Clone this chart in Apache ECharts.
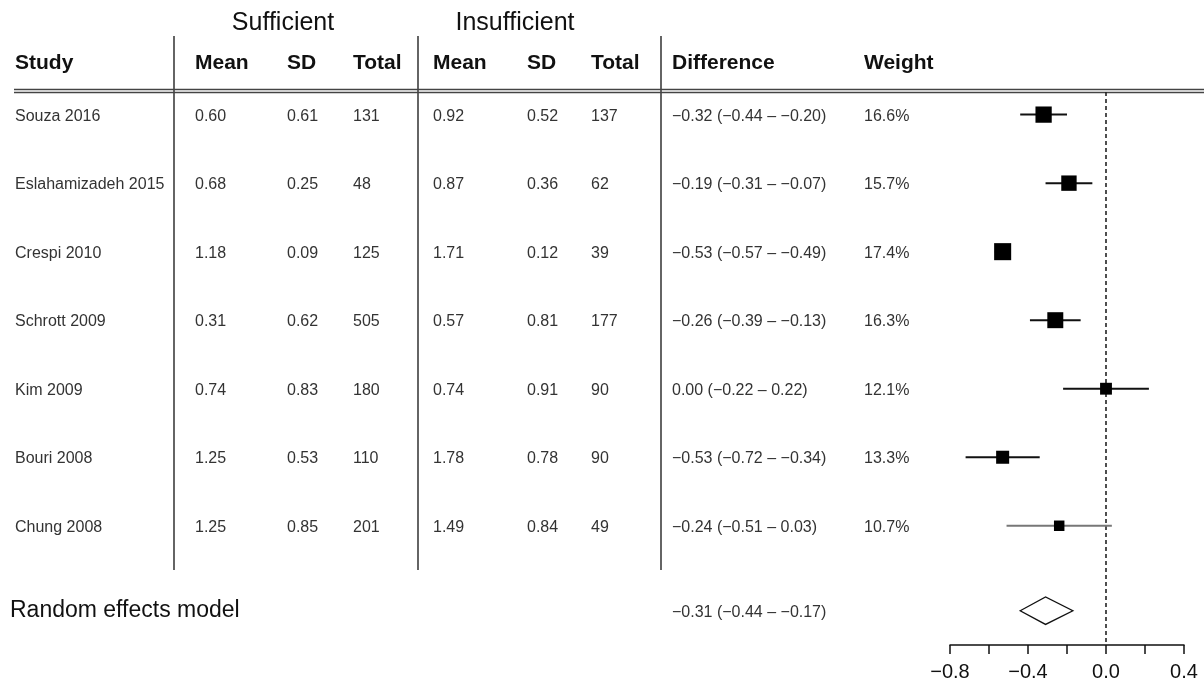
<!DOCTYPE html>
<html>
<head>
<meta charset="utf-8">
<script src="https://cdn.jsdelivr.net/npm/echarts@6/dist/echarts.min.js"></script>
<style>html,body{margin:0;padding:0;background:#fff}#c{width:1204px;height:692px}</style>
</head>
<body>
<div id="c"></div>
<script>
// ---- data ----
const studies = ['Souza 2016','Eslahamizadeh 2015','Crespi 2010','Schrott 2009','Kim 2009','Bouri 2008','Chung 2008'];
const sufMean = [0.60, 0.68, 1.18, 0.31, 0.74, 1.25, 1.25];
const sufSD   = [0.61, 0.25, 0.09, 0.62, 0.83, 0.53, 0.85];
const sufN    = [131, 48, 125, 505, 180, 110, 201];
const insMean = [0.92, 0.87, 1.71, 0.57, 0.74, 1.78, 1.49];
const insSD   = [0.52, 0.36, 0.12, 0.81, 0.91, 0.78, 0.84];
const insN    = [137, 62, 39, 177, 90, 90, 49];
const diff    = [-0.32, -0.19, -0.53, -0.26, 0.00, -0.53, -0.24];
const ciLow   = [-0.44, -0.31, -0.57, -0.39, -0.22, -0.72, -0.51];
const ciHigh  = [-0.20, -0.07, -0.49, -0.13, 0.22, -0.34, 0.03];
const weight  = [16.6, 15.7, 17.4, 16.3, 12.1, 13.3, 10.7];
const pooled  = {est: -0.31, low: -0.44, high: -0.17};
const xTicks  = [-0.8, -0.4, 0.0, 0.4];

// ---- layout ----
const FONT = "'Liberation Sans', Arial, Helvetica, sans-serif";
const REM_ROW = 7.24;
const yMin = -0.33, yMax = 7.74;
const cols = {study: 15, sMean: 195, sSD: 287, sN: 353, iMean: 433, iSD: 527, iN: 591, diff: 672, w: 864};

function fmt(v){ return (v < 0 ? '\u2212' : '') + Math.abs(v).toFixed(2); }
function ciText(e, l, h){ return fmt(e) + ' (' + fmt(l) + ' \u2013 ' + fmt(h) + ')'; }

const textData = [];
studies.forEach((s, i) => {
  textData.push([cols.study, i, s]);
  textData.push([cols.sMean, i, sufMean[i].toFixed(2)]);
  textData.push([cols.sSD, i, sufSD[i].toFixed(2)]);
  textData.push([cols.sN, i, String(sufN[i])]);
  textData.push([cols.iMean, i, insMean[i].toFixed(2)]);
  textData.push([cols.iSD, i, insSD[i].toFixed(2)]);
  textData.push([cols.iN, i, String(insN[i])]);
  textData.push([cols.diff, i, ciText(diff[i], ciLow[i], ciHigh[i])]);
  textData.push([cols.w, i, weight[i].toFixed(1) + '%']);
});
textData.push([cols.diff, REM_ROW, ciText(pooled.est, pooled.low, pooled.high)]);

const studyData = studies.map((s, i) => [diff[i], i, ciLow[i], ciHigh[i], weight[i]]);

const chart = echarts.init(document.getElementById('c'), null, {renderer: 'canvas'});
const hdr = (t, x) => ({type: 'text', x: x, y: 63, style: {text: t, font: 'bold 21px ' + FONT, fill: '#111', verticalAlign: 'middle', align: 'left'}});
const vline = (x) => ({type: 'line', shape: {x1: x, y1: 36, x2: x, y2: 570}, style: {stroke: '#111', lineWidth: 1.3}});

chart.setOption({
  animation: false,
  backgroundColor: '#fff',
  grid: [
    {left: 950, right: 20, top: 92, bottom: 47},
    {left: 0, right: 0, top: 92, bottom: 47}
  ],
  xAxis: [
    {
      type: 'value', gridIndex: 0, min: -0.8, max: 0.4, interval: 0.2,
      axisLine: {show: true, onZero: false, lineStyle: {color: '#111', width: 1.5}},
      axisTick: {show: true, length: 9, lineStyle: {color: '#111', width: 1.5}},
      splitLine: {show: false},
      axisLabel: {
        margin: 17, fontSize: 20, fontFamily: FONT, color: '#111',
        formatter: v => {
          const r = Math.round(v * 10);
          return xTicks.some(t => Math.round(t * 10) === r) ? (v < 0 ? '\u2212' : '') + Math.abs(v).toFixed(1) : '';
        }
      }
    },
    {type: 'value', gridIndex: 1, min: 0, max: 1204, show: false}
  ],
  yAxis: [
    {type: 'value', gridIndex: 0, inverse: true, min: yMin, max: yMax, show: false},
    {type: 'value', gridIndex: 1, inverse: true, min: yMin, max: yMax, show: false}
  ],
  graphic: [
    {type: 'text', x: 283, y: 23, style: {text: 'Sufficient', font: '25px ' + FONT, fill: '#111', align: 'center', verticalAlign: 'middle'}},
    {type: 'text', x: 515, y: 23, style: {text: 'Insufficient', font: '25px ' + FONT, fill: '#111', align: 'center', verticalAlign: 'middle'}},
    hdr('Study', cols.study), hdr('Mean', cols.sMean), hdr('SD', cols.sSD), hdr('Total', cols.sN),
    hdr('Mean', cols.iMean), hdr('SD', cols.iSD), hdr('Total', cols.iN), hdr('Difference', cols.diff), hdr('Weight', cols.w),
    vline(174), vline(418), vline(661),
    {type: 'line', shape: {x1: 14, y1: 89.5, x2: 1204, y2: 89.5}, style: {stroke: '#444', lineWidth: 1.3}},
    {type: 'line', shape: {x1: 14, y1: 92.5, x2: 1204, y2: 92.5}, style: {stroke: '#444', lineWidth: 1.3}},
    {type: 'text', x: 10, y: 611, style: {text: 'Random effects model', font: '23px ' + FONT, fill: '#111', verticalAlign: 'middle', align: 'left'}}
  ],
  series: [
    {
      type: 'line', xAxisIndex: 0, yAxisIndex: 0, symbol: 'none', silent: true,
      data: [[0, yMin], [0, yMax]],
      lineStyle: {color: '#222', width: 1.6, type: [4, 3]}, z: 1
    },
    {
      type: 'custom', xAxisIndex: 0, yAxisIndex: 0, data: studyData, z: 3,
      renderItem: (params, api) => {
        const est = api.value(0), row = api.value(1), lo = api.value(2), hi = api.value(3), w = api.value(4);
        const c = api.coord([est, row]), a = api.coord([lo, row]), b = api.coord([hi, row]);
        const sz = w * 0.98;
        const gray = params.dataIndex === studies.length - 1;
        return {type: 'group', children: [
          {type: 'line', shape: {x1: a[0], y1: a[1], x2: b[0], y2: b[1]}, style: {stroke: gray ? '#777' : '#111', lineWidth: 2}},
          {type: 'rect', shape: {x: c[0] - sz / 2, y: c[1] - sz / 2, width: sz, height: sz}, style: {fill: '#000'}}
        ]};
      }
    },
    {
      type: 'custom', xAxisIndex: 0, yAxisIndex: 0, data: [[pooled.est, REM_ROW, pooled.low, pooled.high]], z: 3,
      renderItem: (params, api) => {
        const e = api.value(0), r = api.value(1), lo = api.value(2), hi = api.value(3);
        const p1 = api.coord([lo, r]), p2 = api.coord([e, r - 0.2]), p3 = api.coord([hi, r]), p4 = api.coord([e, r + 0.2]);
        return {type: 'polygon', shape: {points: [p1, p2, p3, p4]}, style: {fill: '#fff', stroke: '#111', lineWidth: 1.3}};
      }
    },
    {
      type: 'custom', xAxisIndex: 1, yAxisIndex: 1, data: textData, z: 4,
      renderItem: (params, api) => {
        const d = textData[params.dataIndex];
        const p = api.coord([d[0], d[1]]);
        return {type: 'text', x: p[0], y: p[1] + 1.5, style: {text: d[2], font: '16px ' + FONT, fill: '#333', align: 'left', verticalAlign: 'middle'}};
      }
    }
  ]
});
</script>
</body>
</html>
